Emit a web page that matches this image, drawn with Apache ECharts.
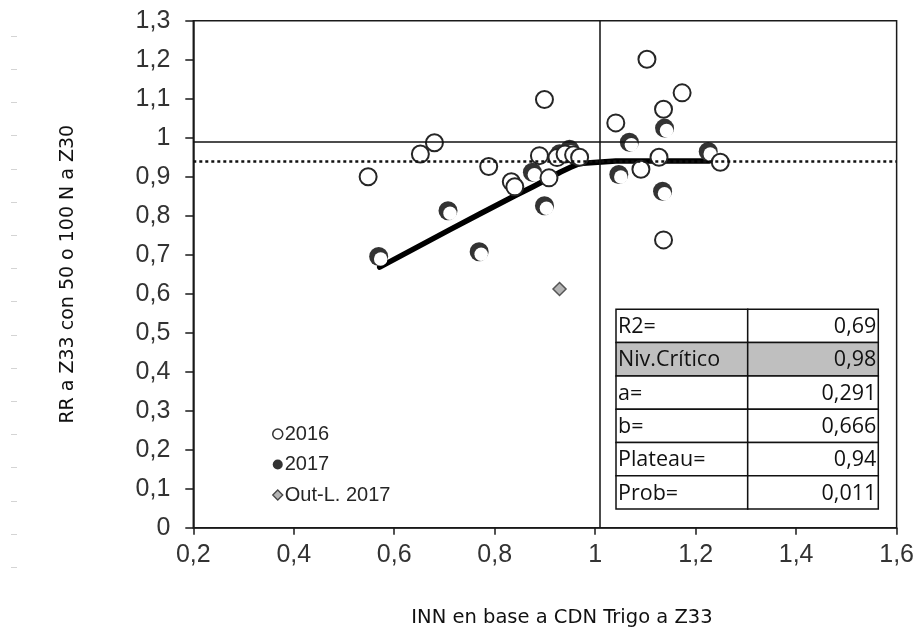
<!DOCTYPE html>
<html>
<head>
<meta charset="utf-8">
<style>
  html, body { margin: 0; padding: 0; background: #fff; }
  #chart { width: 917px; height: 637px; }
</style>
<script src="https://cdn.jsdelivr.net/npm/echarts@6/dist/echarts.min.js"></script>
</head>
<body>
<div id="chart"></div>
<script>
// INN (x) vs RR (y) — 2016 and 2017 campaigns
const inn2016 = [0.548, 0.652, 0.680, 0.788, 0.833, 0.840, 0.889, 0.899, 0.908, 0.924, 0.940, 0.957, 0.969, 1.041, 1.103, 1.173, 1.136, 1.091, 1.127, 1.249, 1.136];
const rr2016  = [0.900, 0.958, 0.987, 0.926, 0.887, 0.874, 0.954, 1.098, 0.897, 0.949, 0.958, 0.956, 0.950, 1.038, 1.201, 1.115, 1.073, 0.919, 0.950, 0.937, 0.738];

const inn2017 = [0.571, 0.709, 0.771, 0.877, 0.901, 0.931, 0.951, 1.070, 1.049, 1.140, 1.136, 1.227];
const rr2017  = [0.693, 0.810, 0.705, 0.909, 0.823, 0.956, 0.968, 0.986, 0.903, 1.022, 0.860, 0.962];

const innOutlier = [0.929];
const rrOutlier  = [0.612];

// linear-plateau fit
const fitX = [0.571, 0.709, 0.771, 0.840, 0.877, 0.908, 0.931, 0.951, 0.969, 1.041, 1.227];
const fitY = [0.668, 0.763, 0.805, 0.851, 0.875, 0.896, 0.912, 0.924, 0.934, 0.940, 0.940];

// reference levels
const refRR = 0.993;
const plateauRR = 0.94;
const refINN = 1.007;

// axis ticks
const xTicks = { min: 0.2, max: 1.6, step: 0.2 };
const yTicks = { min: 0, max: 1.3, step: 0.1 };

// fit statistics table
const statLabels = ['R2=', 'Niv.Crítico', 'a=', 'b=', 'Plateau=', 'Prob='];
const statValues = ['0,69', '0,98', '0,291', '0,666', '0,94', '0,011'];
const highlightRow = 1;

const zip = (xs, ys) => xs.map((x, i) => [x, ys[i]]);
const fmt = v => String(+(+v).toFixed(1)).replace('.', ',');

const chart = echarts.init(document.getElementById('chart'));

// statistics table drawn as graphic cells
const tbl = { left: 616, top: 309.3, c1: 131.7, c2: 130.6, rowH: 33.3 };
const tableEls = [];
statLabels.forEach((lab, i) => {
  const y = tbl.top + i * tbl.rowH;
  const fill = i === highlightRow ? '#bfbfbf' : '#ffffff';
  tableEls.push({ type: 'rect', shape: { x: tbl.left, y: y, width: tbl.c1, height: tbl.rowH },
    style: { fill: fill, stroke: '#111', lineWidth: 1.5 } });
  tableEls.push({ type: 'rect', shape: { x: tbl.left + tbl.c1, y: y, width: tbl.c2, height: tbl.rowH },
    style: { fill: fill, stroke: '#111', lineWidth: 1.5 } });
  tableEls.push({ type: 'text', x: tbl.left + 2, y: y + tbl.rowH / 2 + 1,
    style: { text: lab, fill: '#111', font: '21.5px "Open Sans"', align: 'left', verticalAlign: 'middle' } });
  tableEls.push({ type: 'text', x: tbl.left + tbl.c1 + tbl.c2 - 2, y: y + tbl.rowH / 2 + 1,
    style: { text: statValues[i], fill: '#111', font: '21.5px "Open Sans"', align: 'right', verticalAlign: 'middle' } });
});

// faint dashes along the left margin
const marginDashes = [];
for (let k = 0; k < 17; k++) {
  const y = Math.round(35.8 + 33.2 * k) + 0.5;
  marginDashes.push({ type: 'line', shape: { x1: 11, y1: y, x2: 17, y2: y },
    style: { stroke: '#d4d4d4', lineWidth: 1 } });
}

const option = {
  backgroundColor: '#ffffff',
  animation: false,
  grid: { left: 193.3, right: 20.3, top: 20.7, bottom: 109.3, show: true,
          borderColor: '#1a1a1a', borderWidth: 1.5, backgroundColor: 'transparent' },
  legend: {
    orient: 'vertical', left: 267, top: 419, itemWidth: 10, itemHeight: 10, itemGap: 10.5,
    selectedMode: false,
    textStyle: { fontFamily: 'Liberation Sans', fontSize: 20, color: '#262626', padding: [0, 0, 0, -3] },
    data: [
      { name: '2016', icon: 'circle', itemStyle: { color: '#fff', borderColor: '#333', borderWidth: 1.5 } },
      { name: '2017', icon: 'circle', itemStyle: { color: '#333', borderWidth: 0 } },
      { name: 'Out-L. 2017', icon: 'diamond', itemStyle: { color: '#b4b4b4', borderColor: '#444', borderWidth: 1.3 } }
    ]
  },
  xAxis: {
    type: 'value', min: xTicks.min, max: xTicks.max, interval: xTicks.step,
    name: 'INN en base a CDN Trigo a Z33', nameLocation: 'middle', nameGap: 80,
    nameTextStyle: { fontFamily: 'DejaVu Sans', fontSize: 19.5, color: '#111', padding: [0, 0, 0, 34] },
    axisLine: { show: true, onZero: false, lineStyle: { color: '#1a1a1a', width: 1.5 } },
    axisTick: { show: true, inside: false, length: 7, lineStyle: { color: '#1a1a1a', width: 1.5 } },
    axisLabel: { margin: 15, fontFamily: 'Liberation Sans', fontSize: 25, color: '#333', formatter: fmt },
    splitLine: { show: false }
  },
  yAxis: {
    type: 'value', min: yTicks.min, max: yTicks.max, interval: yTicks.step,
    name: 'RR a Z33 con 50 o 100 N a Z30', nameLocation: 'middle', nameGap: 116,
    nameTextStyle: { fontFamily: 'DejaVu Sans', fontSize: 19, color: '#111' },
    axisLine: { show: true, onZero: false, lineStyle: { color: '#1a1a1a', width: 1.5 } },
    axisTick: { show: true, inside: false, length: 8, lineStyle: { color: '#1a1a1a', width: 1.5 } },
    axisLabel: { margin: 23, fontFamily: 'Liberation Sans', fontSize: 25, color: '#333', formatter: fmt },
    splitLine: { show: false }
  },
  graphic: [...marginDashes, ...tableEls],
  series: [
    {
      name: 'Ajuste', type: 'line', z: 1, data: zip(fitX, fitY), showSymbol: false, symbol: 'none',
      smooth: false,
      lineStyle: { color: '#000', width: 5.5, cap: 'round', join: 'round' }
    },
    {
      name: '2017', type: 'scatter', z: 2, data: zip(inn2017, rr2017),
      symbol: 'circle', symbolSize: 19, symbolOffset: [-1, -1],
      itemStyle: { color: '#333', opacity: 1 }
    },
    {
      name: '2017 brillo', type: 'scatter', z: 2, data: zip(inn2017, rr2017),
      symbol: 'circle', symbolSize: 13.5, symbolOffset: [1, 1.5],
      itemStyle: { color: '#fff', opacity: 1 }, silent: true
    },
    {
      name: '2016', type: 'scatter', z: 3, data: zip(inn2016, rr2016),
      symbol: 'circle', symbolSize: 17,
      itemStyle: { color: '#fff', borderColor: '#262626', borderWidth: 2, opacity: 1 }
    },
    {
      name: 'Out-L. 2017', type: 'scatter', z: 4, data: zip(innOutlier, rrOutlier),
      symbol: 'diamond', symbolSize: 13,
      itemStyle: { color: '#b4b4b4', borderColor: '#555', borderWidth: 1.5, opacity: 1 }
    },
    {
      name: 'Referencias', type: 'scatter', z: 5, data: [], silent: true,
      markLine: {
        silent: true, symbol: 'none', animation: false,
        label: { show: false },
        emphasis: { disabled: true },
        data: [
          { yAxis: refRR, lineStyle: { color: '#111', width: 1.5, type: 'solid' } },
          { yAxis: plateauRR, lineStyle: { color: '#111', width: 2.5, type: [3, 3] } },
          { xAxis: refINN, lineStyle: { color: '#111', width: 1.5, type: 'solid' } }
        ]
      }
    }
  ]
};

chart.setOption(option);
</script>
</body>
</html>
